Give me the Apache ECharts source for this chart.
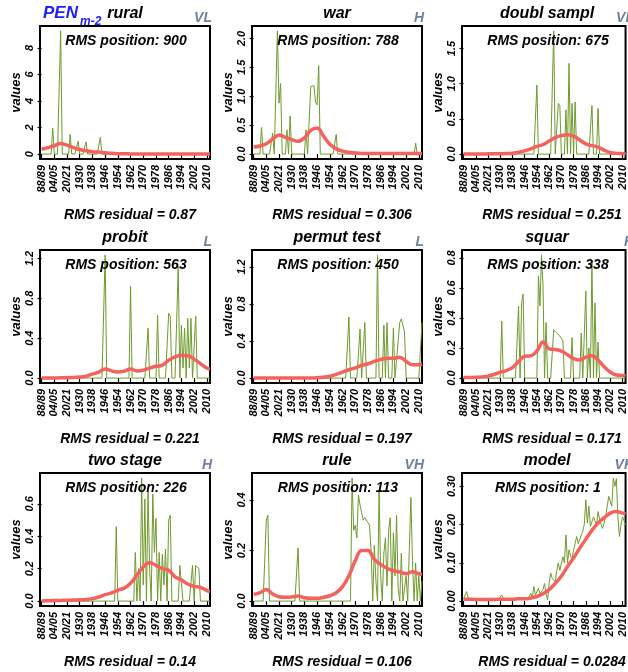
<!DOCTYPE html>
<html>
<head>
<meta charset="utf-8">
<script src="https://cdn.jsdelivr.net/npm/echarts@6/dist/echarts.min.js"></script>
<style>
  html, body { margin: 0; padding: 0; background: #fff; }
  #chart { width: 628px; height: 672px; }
</style>
</head>
<body>
<div id="chart"></div>
<script>
// x positions are period indices; labels sit on every 8th period
const tickLabels = ['88/89', '04/05', '20/21', '1930', '1938', '1946', '1954', '1962', '1970', '1978', '1986', '1994', '2002', '2010']
const smoothIdx = [0, 4, 8, 12, 16, 20, 24, 28, 32, 36, 40, 44, 48, 52, 56, 60, 64, 68, 72, 76, 80, 84, 88, 92, 96, 100, 104, 106]

const titles = ['rural', 'war', 'doubl sampl', 'probit', 'permut test', 'squar', 'two stage', 'rule', 'model']
const tags = ['VL', 'H', 'VL', 'L', 'L', 'H', 'H', 'VH', 'VH']
const rmsPosition = [900, 788, 675, 563, 450, 338, 226, 113, 1]
const rmsResidual = ['0.87', '0.306', '0.251', '0.221', '0.197', '0.171', '0.14', '0.106', '0.0284']

const rural = [
  0, 0, 0, 0, 0, 0, 0, 1.95,
  0, 0, 0, 0, 9.28, 0, 0, 0,
  0, 0, 1.49, 0, 0, 0, 0, 0.98,
  0, 0, 0, 0, 0.93, 0, 0, 0,
  0, 0, 0, 0, 0, 1.26, 0, 0,
  0, 0, 0, 0, 0, 0, 0, 0,
  0, 0, 0, 0, 0, 0, 0, 0,
  0, 0, 0, 0, 0, 0, 0, 0,
  0, 0, 0, 0, 0, 0, 0, 0,
  0, 0, 0, 0, 0, 0, 0, 0,
  0, 0, 0, 0, 0, 0, 0, 0,
  0, 0, 0, 0, 0, 0, 0, 0,
  0, 0, 0, 0, 0, 0, 0, 0,
  0, 0, 0]
const ruralFit = [0.36, 0.49, 0.63, 0.79, 0.67, 0.49, 0.35, 0.25, 0.18, 0.15, 0.1, 0.055, 0.03, 0.02, 0.012, 0.01, 0.008, 0.006, 0.005, 0.005, 0.004, 0.004, 0.004, 0.004, 0.004, 0.004, 0.004, 0.004]

const war = [
  0, 0, 0, 0, 0, 0.46, 0, 0,
  0, 0, 0, 0, 0.36, 0, 0, 2.13,
  0.88, 1.22, 0, 0, 0, 0.42, 0, 0.66,
  0, 0, 0, 0, 0, 0, 0, 0,
  0, 0.42, 0, 0, 1.17, 1.19, 1.18, 0.9,
  0.85, 1.53, 0, 0, 0, 0, 0, 0,
  0, 0, 0, 0, 0.34, 0, 0, 0,
  0, 0, 0, 0, 0, 0, 0, 0,
  0, 0, 0, 0, 0, 0, 0, 0,
  0, 0, 0, 0, 0, 0, 0, 0,
  0, 0, 0, 0, 0, 0, 0, 0,
  0, 0, 0, 0, 0, 0, 0, 0,
  0, 0, 0, 0, 0, 0, 0.19, 0,
  0, 0, 0]
const warFit = [0.12, 0.14, 0.18, 0.26, 0.33, 0.29, 0.25, 0.22, 0.28, 0.41, 0.45, 0.31, 0.17, 0.09, 0.05, 0.03, 0.02, 0.012, 0.01, 0.01, 0.01, 0.01, 0.01, 0.01, 0.01, 0.012, 0.012, 0.012]

const doublSampl = [
  0, 0, 0, 0, 0, 0, 0, 0,
  0, 0, 0, 0, 0, 0, 0, 0,
  0, 0, 0, 0, 0, 0, 0, 0,
  0, 0, 0, 0, 0, 0, 0, 0,
  0, 0, 0, 0, 0, 0, 0, 0,
  0, 0, 0, 0, 0, 0, 0, 0,
  0.98, 0, 0, 0, 0, 0, 0, 0,
  0, 0, 0, 1.75, 0, 0, 0.72, 0.69,
  0, 0, 0, 0.63, 0, 1.29, 0, 0.72,
  0, 0.74, 0, 0, 0, 0, 0, 0,
  0, 0, 0, 0, 0.69, 0, 0, 0,
  0.65, 0, 0, 0, 0, 0, 0, 0,
  0, 0, 0, 0, 0, 0, 0, 0,
  0, 0, 0]
const doublSamplFit = [0.002, 0.002, 0.002, 0.002, 0.003, 0.004, 0.005, 0.007, 0.012, 0.025, 0.045, 0.075, 0.11, 0.135, 0.185, 0.235, 0.262, 0.275, 0.255, 0.2, 0.145, 0.12, 0.1, 0.055, 0.022, 0.01, 0.006, 0.005]

const probit = [
  0, 0, 0, 0, 0, 0, 0, 0,
  0, 0, 0, 0, 0, 0, 0, 0,
  0, 0, 0, 0, 0, 0, 0, 0,
  0, 0, 0, 0, 0, 0, 0, 0,
  0, 0, 0, 0, 0, 0, 0, 0,
  1.235, 0, 0, 0, 0, 0, 0, 0,
  0, 0, 0, 0, 0, 0, 0, 0,
  0.92, 0, 0, 0, 0, 0, 0, 0,
  0, 0, 0, 0.5, 0, 0, 0, 0,
  0, 0.63, 0, 0, 0, 0, 0, 0,
  0.65, 0.62, 0, 0, 0, 0, 1.12, 0,
  0.53, 0.1, 0.5, 0, 0.6, 0.1, 0.6, 0,
  0, 0.62, 0, 0, 0, 0, 0, 0,
  0, 0, 0]
const probitFit = [0, 0, 0.001, 0.002, 0.003, 0.005, 0.01, 0.02, 0.04, 0.06, 0.09, 0.072, 0.062, 0.07, 0.09, 0.072, 0.08, 0.1, 0.118, 0.13, 0.178, 0.212, 0.228, 0.224, 0.19, 0.145, 0.1, 0.088]

const permutTest = [
  0, 0, 0, 0, 0, 0, 0, 0,
  0, 0, 0, 0, 0, 0, 0, 0,
  0, 0, 0, 0, 0, 0, 0, 0,
  0, 0, 0, 0, 0, 0, 0, 0,
  0, 0, 0, 0, 0, 0, 0, 0,
  0, 0, 0, 0, 0, 0, 0, 0,
  0, 0, 0, 0, 0, 0, 0, 0,
  0, 0, 0, 0, 0.66, 0, 0, 0,
  0, 0, 0, 0.53, 0, 0, 0.6, 0,
  0, 0, 0, 0, 0, 0, 1.33, 0,
  0, 0, 0.57, 0, 0.6, 0, 0, 0,
  0.54, 0, 0, 0.4, 0.6, 0.64, 0.62, 0.5,
  0, 0, 0, 0, 0, 0, 0, 0,
  0, 0, 0.6]
const permutTestFit = [0, 0, 0, 0, 0.001, 0.001, 0.001, 0.001, 0.002, 0.002, 0.004, 0.01, 0.02, 0.04, 0.065, 0.09, 0.11, 0.138, 0.155, 0.18, 0.2, 0.215, 0.215, 0.225, 0.18, 0.145, 0.145, 0.15]

const squar = [
  0, 0, 0, 0, 0, 0, 0, 0,
  0, 0, 0, 0, 0, 0, 0, 0,
  0, 0, 0, 0, 0, 0, 0, 0,
  0, 0.38, 0, 0, 0, 0, 0, 0,
  0, 0, 0, 0, 0.48, 0, 0.5, 0.56,
  0, 0, 0, 0, 0, 0, 0, 0,
  0, 0.68, 0.48, 0.82, 0.62, 0, 0.37, 0,
  0, 0, 0, 0.32, 0.31, 0.3, 0.29, 0.28,
  0.27, 0.25, 0, 0, 0, 0, 0, 0.27,
  0, 0, 0, 0, 0, 0.3, 0, 0,
  0.58, 0, 0.2, 0, 0.78, 0, 0.5, 0,
  0.24, 0, 0, 0, 0, 0, 0, 0,
  0, 0, 0, 0, 0, 0, 0, 0,
  0, 0, 0]
const squarFit = [0.003, 0.004, 0.005, 0.008, 0.013, 0.025, 0.04, 0.05, 0.07, 0.11, 0.145, 0.148, 0.18, 0.24, 0.195, 0.19, 0.18, 0.155, 0.13, 0.12, 0.14, 0.148, 0.12, 0.075, 0.04, 0.02, 0.018, 0.015]

const twoStage = [
  0, 0, 0, 0, 0, 0, 0, 0,
  0, 0, 0, 0, 0, 0, 0, 0,
  0, 0, 0, 0, 0, 0, 0, 0,
  0, 0, 0, 0, 0, 0, 0, 0,
  0, 0, 0, 0, 0, 0, 0, 0,
  0, 0, 0, 0, 0, 0, 0, 0.46,
  0, 0, 0, 0, 0, 0, 0, 0,
  0, 0, 0, 0.3, 0, 0.2, 0, 0.76,
  0.1, 0.63, 0, 0.68, 0.2, 0, 0.66, 0.3,
  0.51, 0, 0.3, 0, 0.29, 0.1, 0.32, 0,
  0.5, 0.53, 0, 0, 0, 0, 0, 0.22,
  0.22, 0, 0, 0, 0, 0, 0, 0.22,
  0, 0.22, 0.22, 0.2, 0, 0, 0, 0,
  0, 0, 0]
const twoStageFit = [0.001, 0.002, 0.003, 0.004, 0.005, 0.006, 0.008, 0.01, 0.015, 0.025, 0.04, 0.05, 0.068, 0.08, 0.11, 0.16, 0.21, 0.238, 0.22, 0.2, 0.19, 0.15, 0.13, 0.105, 0.09, 0.085, 0.065, 0.058]

const rule = [
  0, 0, 0, 0, 0, 0, 0, 0,
  0.32, 0.34, 0, 0, 0, 0, 0, 0,
  0, 0, 0, 0, 0, 0, 0, 0,
  0, 0, 0, 0, 0.21, 0, 0, 0,
  0, 0, 0, 0, 0, 0, 0, 0,
  0, 0, 0, 0, 0, 0, 0, 0,
  0, 0, 0, 0, 0, 0, 0, 0,
  0, 0, 0, 0, 0, 0, 0.487, 0.28,
  0.3, 0.25, 0.42, 0.38, 0.35, 0.32, 0.33, 0.33,
  0.31, 0.3, 0.19, 0, 0.22, 0.08, 0, 0.44,
  0.1, 0, 0.19, 0.25, 0.06, 0.28, 0.33, 0,
  0.27, 0.1, 0.34, 0.05, 0, 0.19, 0, 0,
  0.1, 0, 0.2, 0.41, 0.16, 0, 0.15, 0,
  0.1, 0, 0.08]
const ruleFit = [0.026, 0.033, 0.046, 0.028, 0.017, 0.015, 0.016, 0.02, 0.013, 0.011, 0.011, 0.015, 0.021, 0.033, 0.057, 0.1, 0.16, 0.2, 0.2, 0.165, 0.145, 0.13, 0.12, 0.115, 0.108, 0.116, 0.108, 0.105]

const model = [
  0.005, 0.01, 0.025, 0.008, 0.005, 0.004, 0.005, 0.006,
  0.004, 0.005, 0.005, 0.004, 0.006, 0.005, 0.004, 0.005,
  0.005, 0.004, 0.006, 0.005, 0.004, 0.005, 0.005, 0.006,
  0.008, 0.016, 0.006, 0.005, 0.004, 0.005, 0.006, 0.005,
  0.005, 0.006, 0.004, 0.005, 0.006, 0.005, 0.007, 0.006,
  0.006, 0.008, 0.006, 0.012, 0.02, 0.01, 0.038, 0.016,
  0.02, 0.033, 0.02, 0.025, 0.03, 0.046, 0.02, 0.003,
  0.046, 0.073, 0.06, 0.06, 0.05, 0.08, 0.1, 0.08,
  0.08, 0.116, 0.1, 0.173, 0.1, 0.134, 0.12, 0.108,
  0.134, 0.15, 0.169, 0.15, 0.16, 0.173, 0.182, 0.2,
  0.265, 0.204, 0.248, 0.195, 0.2, 0.22, 0.21, 0.195,
  0.234, 0.215, 0.2, 0.19, 0.186, 0.22, 0.248, 0.274,
  0.26, 0.248, 0.322, 0.3, 0.32, 0.22, 0.169, 0.2,
  0.22, 0.21, 0.2]
const modelFit = [0.005, 0.005, 0.004, 0.004, 0.004, 0.004, 0.005, 0.005, 0.005, 0.006, 0.006, 0.008, 0.012, 0.019, 0.03, 0.046, 0.065, 0.09, 0.113, 0.138, 0.162, 0.185, 0.204, 0.218, 0.23, 0.234, 0.23, 0.228]

const yTicks = [
  [0, 2, 4, 6, 8],
  [0, 0.5, 1, 1.5, 2],
  [0, 0.5, 1, 1.5],
  [0, 0.4, 0.8, 1.2],
  [0, 0.4, 0.8, 1.2],
  [0, 0.2, 0.4, 0.6, 0.8],
  [0, 0.2, 0.4, 0.6],
  [0, 0.2, 0.4],
  [0, 0.1, 0.2, 0.3]
]
const yDigits = [0, 1, 1, 1, 1, 1, 1, 1, 2]

const panels = [
  [rural, ruralFit], [war, warFit], [doublSampl, doublSamplFit],
  [probit, probitFit], [permutTest, permutTestFit], [squar, squarFit],
  [twoStage, twoStageFit], [rule, ruleFit], [model, modelFit]
]

const FONT = 'Liberation Sans'
const colLeft = [40, 252, 462]
const rowTop = [26, 250, 473]
const boxW = 170
const boxH = 133
const tickIdx = tickLabels.map((_, k) => k * 8)

const txt = (text, x, y, size, align, color) => ({
  type: 'text',
  z: 100,
  silent: true,
  style: {
    text: text,
    x: x,
    y: y,
    align: align,
    verticalAlign: 'middle',
    fill: color || '#000',
    font: 'italic bold ' + size + 'px "' + FONT + '"'
  }
})

const grid = []
const xAxis = []
const yAxis = []
const series = []
const graphic = []

panels.forEach(([values, fit], i) => {
  const left = colLeft[i % 3]
  const top = rowTop[Math.floor(i / 3)]
  const cx = left + boxW / 2
  const ymax = Math.max(...values)

  grid.push({ left: left, top: top, width: boxW, height: boxH, show: true, borderColor: '#000', borderWidth: 2 })

  xAxis.push({
    type: 'value',
    gridIndex: i,
    min: -1,
    max: 106,
    axisLine: { show: false },
    splitLine: { show: false },
    axisTick: { show: true, length: 4, customValues: tickIdx, lineStyle: { color: '#000', width: 1.2 } },
    axisLabel: {
      customValues: tickIdx,
      rotate: 90,
      margin: 6,
      formatter: v => tickLabels[Math.round(v / 8)],
      fontFamily: FONT, fontSize: 11, fontWeight: 'bold', fontStyle: 'italic', color: '#000'
    }
  })

  yAxis.push({
    type: 'value',
    gridIndex: i,
    min: -0.04 * ymax,
    max: 1.04 * ymax,
    name: 'values',
    nameLocation: 'middle',
    nameGap: 17,
    nameTextStyle: { fontFamily: FONT, fontSize: 13, fontWeight: 'bold', fontStyle: 'italic', color: '#000' },
    axisLine: { show: false },
    splitLine: { show: false },
    axisTick: { show: true, length: 4, customValues: yTicks[i], lineStyle: { color: '#000', width: 1.2 } },
    axisLabel: {
      customValues: yTicks[i],
      rotate: 90,
      margin: 5,
      formatter: v => v.toFixed(yDigits[i]),
      fontFamily: FONT, fontSize: 11, fontWeight: 'bold', fontStyle: 'italic', color: '#000'
    }
  })

  series.push({
    type: 'line',
    xAxisIndex: i,
    yAxisIndex: i,
    data: values.map((v, k) => [k, v]),
    showSymbol: false,
    silent: true,
    lineStyle: { color: '#6f9a2c', width: 1 },
    z: 2
  })
  series.push({
    type: 'line',
    xAxisIndex: i,
    yAxisIndex: i,
    data: smoothIdx.map((k, j) => [k, fit[j]]),
    smooth: 0.4,
    showSymbol: false,
    silent: true,
    lineStyle: { color: '#f4625e', width: 3.5 },
    z: 3
  })

  graphic.push(txt(titles[i], cx, top - 12, 16, 'center'))
  graphic.push(txt(tags[i], left + 172, top - 8, 14, 'right', '#6e819c'))
  graphic.push(txt('RMS position: ' + rmsPosition[i], cx + 1, top + 15, 14, 'center'))
  graphic.push(txt('RMS residual = ' + rmsResidual[i], cx + 5, top + boxH + 56, 14, 'center'))
})

graphic.push(txt('PEN', 43, 13.5, 17, 'left', '#2020ff'))
graphic.push(txt('m-2', 80, 22, 12, 'left', '#2020ff'))

const chart = echarts.init(document.getElementById('chart'))
chart.setOption({
  animation: false,
  backgroundColor: '#fff',
  grid: grid,
  xAxis: xAxis,
  yAxis: yAxis,
  series: series,
  graphic: graphic
})
</script>
</body>
</html>
